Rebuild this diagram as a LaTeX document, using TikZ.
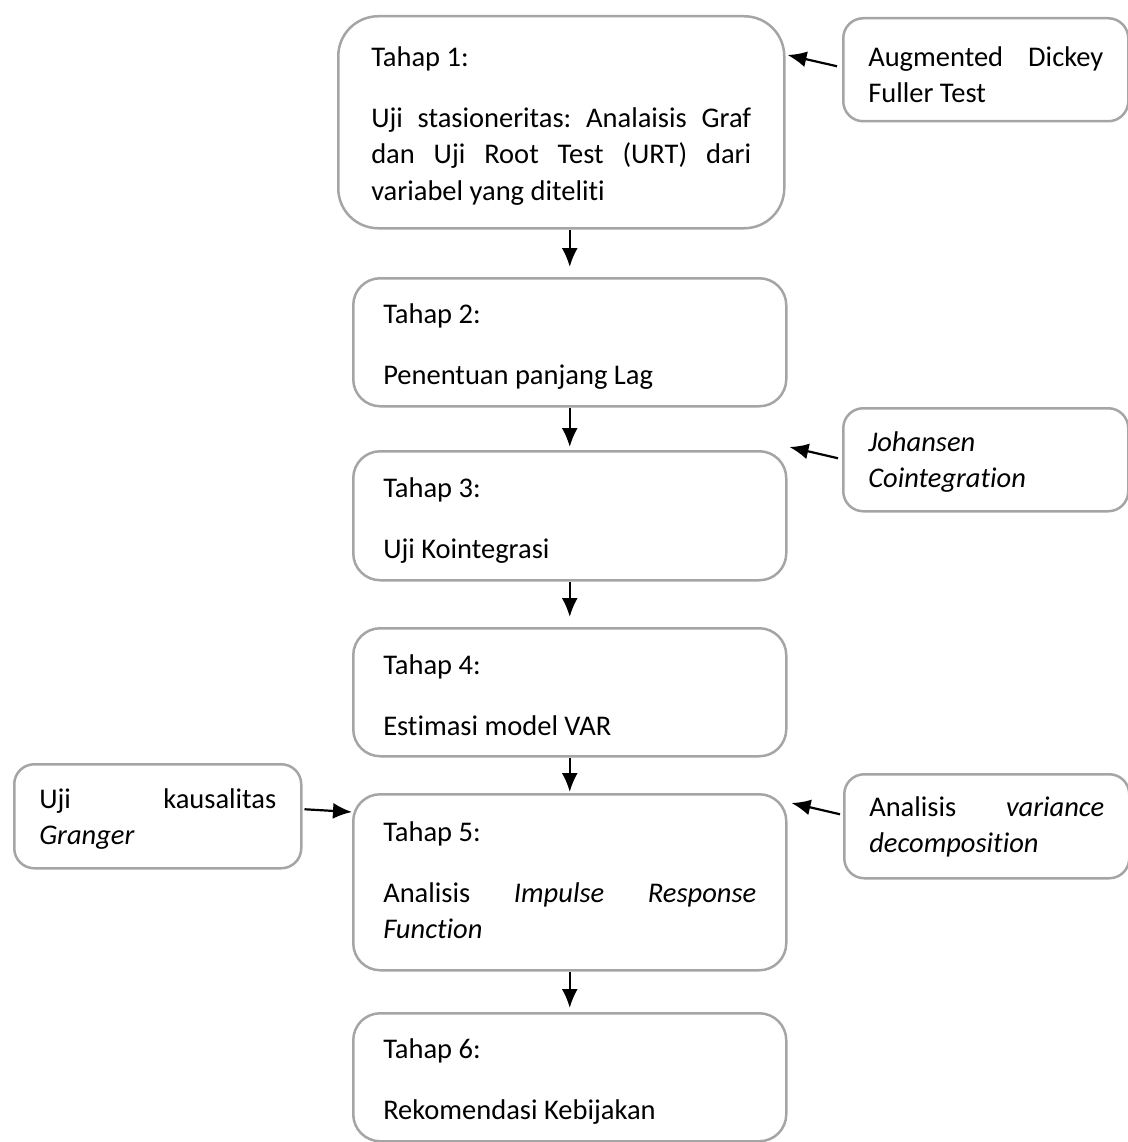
\documentclass[tikz,border=0pt]{standalone}
\usepackage{fontspec}
\setmainfont{Carlito}[Ligatures=NoCommon]
\usetikzlibrary{arrows.meta}
\definecolor{boxgray}{RGB}{165,165,165}
\hyphenpenalty=10000
\frenchspacing
\tikzset{
    stage/.style={draw=boxgray, line width=2.5pt, rounded corners=27pt, anchor=north west,
        inner xsep=30pt, inner ysep=0pt, text width=373pt, text height=46pt, align=justify,
        font=\fontsize{28.5}{36.5}\selectfont},
    side/.style={stage, rounded corners=20pt, inner xsep=25pt, text width=235pt},
    arr/.style={line width=2.2pt, -{Latex[length=19pt,width=16pt]}}
}
\newcommand{\tahapgap}{\par\vspace{24.5pt}}
\begin{document}
\begin{tikzpicture}[x=1pt, y=-1pt]
    \useasboundingbox (0,0) rectangle (1127,1142);
    \node (b1) at (337,15)[stage, rounded corners=40pt, inner xsep=33pt, text width=380pt, text height=50pt, text depth=162pt]
        {Tahap 1:\tahapgap Uji stasioneritas: Analaisis Graf\linebreak dan Uji Root Test (URT) dari\linebreak variabel yang diteliti};
    \node (b2) at (352,277)[stage, text height=45pt, text depth=83pt]{Tahap 2:\tahapgap Penentuan panjang Lag};
    \node (b3) at (352,450)[stage, text depth=83pt]{Tahap 3:\tahapgap Uji Kointegrasi};
    \node (b4) at (352,627)[stage, text depth=82pt]{Tahap 4:\tahapgap Estimasi model VAR};
    \node (b5) at (352,793)[stage, text height=47pt, text depth=129pt]
        {Tahap 5:\tahapgap Analisis \textit{Impulse Response}\linebreak\textit{Function}};
    \node (b6) at (352,1012)[stage, text height=45pt, text depth=83pt]{Tahap 6:\tahapgap Rekomendasi Kebijakan};
    \node (adf) at (842,17)[side, text height=48pt, text depth=55pt]{Augmented Dickey\linebreak Fuller Test};
    \node (jo) at (842,407)[side, text height=43pt, text depth=60pt]{\textit{Johansen}\newline\textit{Cointegration}};
    \node (va) at (843,773)[side, text height=42pt, text depth=62pt]{Analisis \textit{variance}\linebreak\textit{decomposition}};
    \node (gr) at (13,763)[side, text width=237pt, text height=44pt, text depth=60pt]{Uji kausalitas\linebreak\textit{Granger}};
    \draw[arr] (b1.south -| b2.north) -- ([yshift=10pt]b2.north);
    \draw[arr] (b2.south) -- ([yshift=3pt]b3.north);
    \draw[arr] (b3.south) -- ([yshift=10pt]b4.north);
    \draw[arr] (b4.south) -- ([yshift=1pt]b5.north);
    \draw[arr] (b5.south) -- ([yshift=4pt]b6.north);
    \draw[arr] ([shift={(-5pt,3.5pt)}]adf.west) -- ([shift={(2pt,-40pt)}]b1.north east);
    \draw[arr] ([shift={(-4pt,1.5pt)}]jo.west) -- ([shift={(2pt,3pt)}]b3.north east);
    \draw[arr] ([shift={(-3pt,12pt)}]va.west) -- ([shift={(4pt,-10pt)}]b5.north east);
    \draw[arr] ([shift={(2pt,7pt)}]gr.east) -- ([shift={(0pt,-19pt)}]b5.north west);
\end{tikzpicture}
\end{document}
